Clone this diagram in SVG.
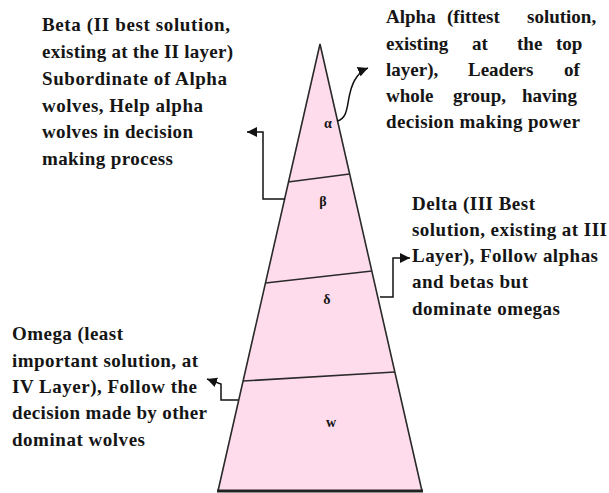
<svg xmlns="http://www.w3.org/2000/svg" width="609" height="493" viewBox="0 0 609 493">
<style>
.t{font-family:"Liberation Serif","Times New Roman",serif;font-weight:bold;font-size:19px;fill:#151515}
.g{font-family:"Liberation Serif","Times New Roman",serif;font-weight:bold;font-size:14px;fill:#151515;text-anchor:middle}
.tri{fill:#FFDCEC;stroke:#2a2a2a;stroke-width:1.6}
.div{stroke:#2a2a2a;stroke-width:1.6;fill:none}
.con{stroke:#111;stroke-width:1.5;fill:none;marker-end:url(#ah)}
</style>
<defs>
<marker id="ah" markerUnits="userSpaceOnUse" markerWidth="12" markerHeight="10" refX="10" refY="5" orient="auto">
<path d="M0,0 L10,5 L0,10 Z" fill="#111"/>
</marker>
</defs>
<rect width="609" height="493" fill="#fff"/>
<g id="pyramid">
<path class="tri" d="M320,44 L422,491 L218,491 Z"/>
<line class="div" x1="288" y1="182" x2="349.5" y2="174"/>
<line class="div" x1="265.5" y1="283" x2="372" y2="271"/>
<line class="div" x1="243" y1="381" x2="395" y2="372"/>
<line x1="217" y1="491" x2="423" y2="491" stroke="#222" stroke-width="3"/>
</g>
<g id="alpha">
<text class="g" x="328" y="128">α</text>
<text class="t" y="23"><tspan x="386">Alpha</tspan><tspan x="447">(fittest</tspan><tspan x="527">solution,</tspan></text>
<text class="t" y="50"><tspan x="386">existing</tspan><tspan x="472">at</tspan><tspan x="517">the</tspan><tspan x="556">top</tspan></text>
<text class="t" y="76"><tspan x="386">layer),</tspan><tspan x="468">Leaders</tspan><tspan x="564">of</tspan></text>
<text class="t" y="102"><tspan x="386">whole</tspan><tspan x="453">group,</tspan><tspan x="522">having</tspan></text>
<text class="t" x="386" y="128" textLength="194" lengthAdjust="spacing">decision making power</text>
</g>
<g id="beta">
<text class="g" x="323" y="206">β</text>
<text class="t" x="42" y="31" textLength="188" lengthAdjust="spacing">Beta (II best solution,</text>
<text class="t" x="42" y="58" textLength="191" lengthAdjust="spacing">existing at the II layer)</text>
<text class="t" x="42" y="85" textLength="185" lengthAdjust="spacing">Subordinate of Alpha</text>
<text class="t" x="42" y="112" textLength="161" lengthAdjust="spacing">wolves, Help alpha</text>
<text class="t" x="42" y="138" textLength="151" lengthAdjust="spacing">wolves in decision</text>
<text class="t" x="42" y="165" textLength="131" lengthAdjust="spacing">making process</text>
</g>
<g id="delta">
<text class="g" x="327" y="304">δ</text>
<text class="t" x="412" y="210" textLength="123" lengthAdjust="spacing">Delta (III Best</text>
<text class="t" x="412" y="236" textLength="195" lengthAdjust="spacing">solution, existing at III</text>
<text class="t" x="412" y="262" textLength="186" lengthAdjust="spacing">Layer), Follow alphas</text>
<text class="t" x="412" y="288" textLength="116" lengthAdjust="spacing">and betas but</text>
<text class="t" x="412" y="315" textLength="148" lengthAdjust="spacing">dominate omegas</text>
</g>
<g id="omega">
<text class="g" x="331" y="427">w</text>
<text class="t" x="12" y="340" textLength="111" lengthAdjust="spacing">Omega (least</text>
<text class="t" x="12" y="367" textLength="186" lengthAdjust="spacing">important solution, at</text>
<text class="t" x="12" y="393" textLength="185" lengthAdjust="spacing">IV Layer), Follow the</text>
<text class="t" x="12" y="419" textLength="195" lengthAdjust="spacing">decision made by other</text>
<text class="t" x="12" y="446" textLength="133" lengthAdjust="spacing">dominat wolves</text>
</g>
<g id="connectors">
<path class="con" d="M337,121 C348,119 347,104 350,93 C353,80 358,72 368,68"/>
<path class="con" d="M285,199 H263 V132 H247"/>
<path class="con" d="M380,297 H393 V258 H410"/>
<path class="con" d="M238,400 H221 V384 L207,379"/>
</g>
</svg>
